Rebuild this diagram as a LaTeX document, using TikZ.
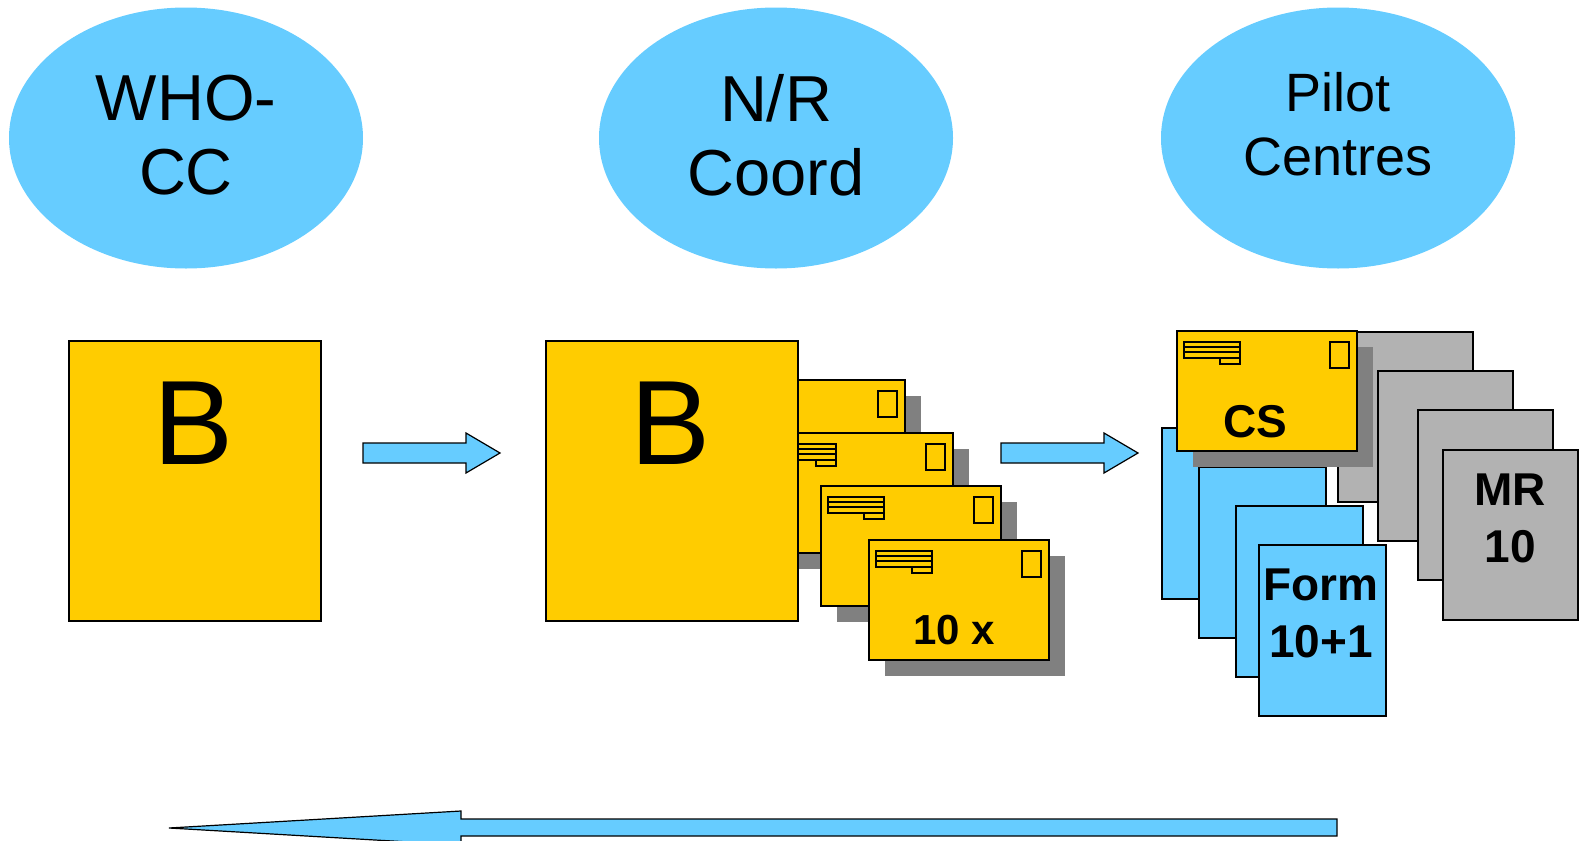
\documentclass[tikz,border=0pt]{standalone}
\usepackage{fontspec}
\setmainfont{Liberation Sans}
\usepackage{tikz}
\definecolor{bubblecolor}{HTML}{66CCFF}
\definecolor{envcolor}{HTML}{FFCC00}
\definecolor{sheetcolor}{HTML}{B2B2B2}
\definecolor{shadowcolor}{HTML}{808080}
\usetikzlibrary{shapes.geometric, positioning}

\begin{document}
\begin{tikzpicture}[
    x=1pt, y=-1pt,
    bubble/.style={ellipse, fill=bubblecolor, minimum width=354, minimum height=261, inner sep=0},
    bubbletext/.style={align=center, inner sep=0, font=\fontsize{65}{74}\selectfont},
    box/.style={rectangle, draw, line width=1.5, anchor=north west, inner sep=0},
    bigbox/.style={box, fill=envcolor, minimum width=252, minimum height=280},
    bigletter/.style={anchor=base, inner sep=0, font=\fontsize{120}{120}\selectfont},
    formsheet/.style={box, fill=bubblecolor, minimum width=127, minimum height=171},
    mrsheet/.style={box, fill=sheetcolor, minimum width=135, minimum height=170},
    tag/.style={inner sep=0, align=center, font=\bfseries\fontsize{46}{57}\selectfont},
    blockarrow/.style={draw, line width=1.2, fill=bubblecolor, line join=miter},
    envelope/.pic={
        \fill[shadowcolor] (16,16) rectangle (196,136);
        \draw[fill=envcolor, line width=1.5] (0,0) rectangle (180,120);
        \draw[line width=1.4] (153,11) rectangle (172,37);
        \draw[line width=2] (7,11) rectangle (63,16) (7,16) rectangle (63,21)
            (7,21) rectangle (63,27) (43,27) rectangle (63,33);
    }
]
    \useasboundingbox (0,0) rectangle (1583,841);

    % Bubbles on top
    \node[bubble] (whobubble) at (186,138) {};
    \node[bubble] (nrbubble) at (776,138) {};
    \node[bubble] (pilotbubble) at (1338,138) {};
    \node[bubbletext] (who) at (186,135) {WHO-\\CC};
    \node[bubbletext] (nr) at (776,135) {N/R\\Coord};
    \node[bubbletext, font=\fontsize{54}{64}\selectfont] (pilot) at (1338,124) {Pilot\\Centres};

    % WHO-CC box
    \node[bigbox] (whobox) at (68,340) {};
    \node[bigletter] (wholetter) at (194,464) {B};

    \draw[blockarrow] (363,443) -- (466,443) -- (466,433) -- (500,453) -- (466,473) -- (466,463) -- (363,463) -- cycle;

    % N/R Coord: envelopes behind the box
    \pic (env1) at (725,380) {envelope};
    \pic (env2) at (773,433) {envelope};
    \pic (env3) at (821,486) {envelope};
    \pic (env4) at (869,540) {envelope};
    \node[tag, anchor=base, font=\bfseries\fontsize{42}{42}\selectfont] (tenx) at (954,644) {10 x};
    \node[bigbox] (nrbox) at (545,340) {};
    \node[bigletter] (nrletter) at (671,464) {B};

    \draw[blockarrow] (1001,443) -- (1104,443) -- (1104,433) -- (1138,453) -- (1104,473) -- (1104,463) -- (1001,463) -- cycle;

    % Pilot centres
    \node[mrsheet] (mr1) at (1337,331) {};
    \node[mrsheet] (mr2) at (1377,370) {};
    \node[mrsheet] (mr3) at (1417,409) {};
    \node[mrsheet] (mr4) at (1442,449) {};
    \node[tag] (mrtext) at (1510,518) {MR\\10};

    \node[formsheet] (form1) at (1161,427) {};
    \node[formsheet] (form2) at (1198,466) {};
    \node[formsheet] (form3) at (1235,505) {};
    \node[formsheet] (form4) at (1258,544) {};
    \node[tag] (formtext) at (1321,613) {Form\\10+1};

    \pic (csenv) at (1177,331) {envelope};
    \node[tag, anchor=base] (cs) at (1255,437) {CS};

    % Return arrow
    \draw[blockarrow] (1337,819) -- (461,819) -- (461,811) -- (169,828) -- (461,845) -- (461,836) -- (1337,836) -- cycle;
\end{tikzpicture}
\end{document}
